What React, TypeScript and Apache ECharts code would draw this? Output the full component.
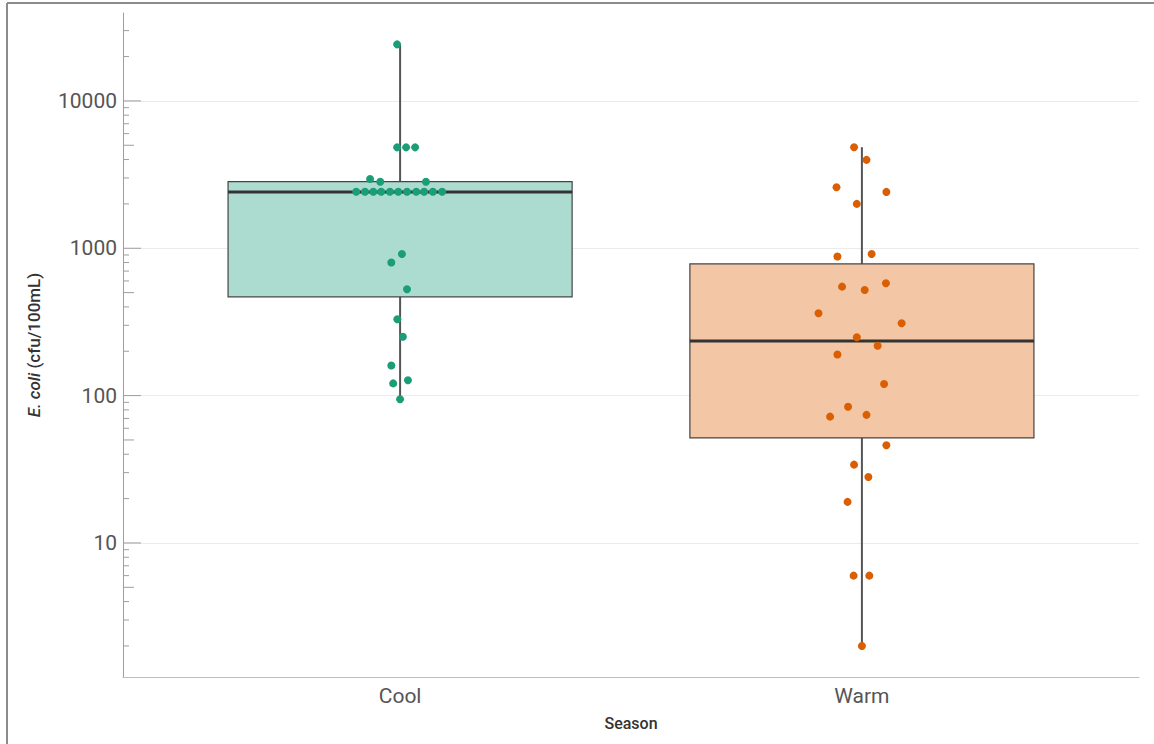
import React, { useEffect, useRef } from 'react';
import * as echarts from 'echarts';

const seasons = ['Cool', 'Warm'];
const boxFill = ['#acdccf', '#f3c6a5'];
const pointColors = ['#1b9e77', '#d95f02'];

// box stats: [min, q1, median, q3, max]
const coolBox = [94.5, 468, 2412, 2830, 24200];
const warmBox = [2, 51.6, 235, 783, 4850];

// points: horizontal jitter offset (category units) and value
const coolJitter = [-0.0065, -0.0065, 0.013, 0.0325, -0.065, -0.043, 0.056,
  -0.095, -0.076, -0.058, -0.041, -0.022, -0.004, 0.015, 0.035, 0.052, 0.071, 0.091,
  0.004, -0.019, 0.015, -0.006, 0.006, -0.019, -0.015, 0.017, 0];
const coolValues = [24200, 4840, 4840, 4840, 2950, 2830, 2830,
  2420, 2420, 2420, 2420, 2420, 2420, 2420, 2420, 2420, 2420, 2420,
  915, 800, 527, 330, 251, 160, 121, 127, 94.5];

const warmJitter = [-0.017, 0.010, -0.055, 0.053, -0.011, -0.053, 0.021, -0.043, 0.006, 0.052,
  -0.094, 0.086, -0.011, 0.034, -0.053, 0.048, -0.030, -0.069, 0.010, 0.053,
  -0.017, 0.014, -0.031, -0.018, 0.016, 0];
const warmValues = [4850, 3980, 2595, 2412, 2000, 878, 915, 549, 521, 579,
  362, 310, 249, 218, 190, 120, 84, 72, 74, 46,
  34, 28, 19, 6, 6, 2];

const yMin = 1.231;
const yMax = 39500;
const majorTicks = [10, 100, 1000, 10000];
const midTicks = [5, 50, 500, 5000];
const minorTicks = [2, 3, 4, 6, 7, 8, 9, 20, 30, 40, 60, 70, 80, 90,
  200, 300, 400, 600, 700, 800, 900, 2000, 3000, 4000, 6000, 7000, 8000, 9000, 20000, 30000];

export default function App() {
  const ref = useRef<HTMLDivElement>(null);
  useEffect(() => {
    if (!ref.current) return;
    const chart = echarts.init(ref.current, null, { renderer: 'svg' });

    const tickData = [
      ...majorTicks.map((v) => [1, v, 18]),
      ...midTicks.map((v) => [1, v, 11]),
      ...minorTicks.map((v) => [1, v, 6]),
    ];
    const boxData = [
      [1, ...coolBox, 0],
      [2, ...warmBox, 1],
    ];

    chart.setOption({
      animation: false,
      textStyle: { fontFamily: 'Roboto' },
      grid: { left: 123, right: 15, top: 13, bottom: 67, containLabel: false },
      graphic: [
        { type: 'line', shape: { x1: 7, y1: 3, x2: 1154, y2: 3 }, style: { stroke: '#8c8c8c', lineWidth: 2 } },
        { type: 'line', shape: { x1: 7, y1: 3, x2: 7, y2: 744 }, style: { stroke: '#8c8c8c', lineWidth: 2 } },
      ],
      xAxis: {
        type: 'value',
        min: 0.4,
        max: 2.6,
        name: 'Season',
        nameLocation: 'middle',
        nameGap: 38,
        nameTextStyle: { fontSize: 16, color: '#333', fontWeight: 500, fontFamily: 'Roboto' },
        axisLine: { show: true, lineStyle: { color: '#bdbdbd', width: 1 } },
        axisTick: { show: false },
        splitLine: { show: false },
        axisLabel: {
          customValues: [1, 2],
          formatter: (v: number) => seasons[Math.round(v) - 1] ?? '',
          fontSize: 21,
          color: '#555',
          margin: 8,
          fontFamily: 'Roboto',
        },
      },
      yAxis: {
        type: 'log',
        logBase: 10,
        min: yMin,
        max: yMax,
        name: '{i|E. coli} (cfu/100mL)',
        nameLocation: 'middle',
        nameRotate: 90,
        nameGap: 81,
        nameTextStyle: {
          fontSize: 17,
          color: '#333',
          fontWeight: 500,
          fontFamily: 'Roboto',
          rich: { i: { fontStyle: 'italic', fontSize: 17, color: '#333', fontWeight: 500, fontFamily: 'Roboto' } },
        },
        axisLine: { show: true, lineStyle: { color: '#9e9e9e', width: 1 } },
        axisTick: { show: false },
        minorTick: { show: false },
        splitLine: { show: true, showMinLine: false, showMaxLine: false, lineStyle: { color: '#ebebeb', width: 1 } },
        axisLabel: {
          showMinLabel: false,
          showMaxLabel: false,
          formatter: (v: number) => String(Math.round(v)),
          fontSize: 21,
          color: '#555',
          margin: 6,
          fontFamily: 'Roboto',
        },
      },
      series: [
        {
          type: 'custom',
          name: 'ticks',
          silent: true,
          encode: { x: 0, y: 1 },
          data: tickData,
          z: 3,
          renderItem: (params: any, api: any) => {
            const y = api.coord([1, api.value(1)])[1];
            const x0 = params.coordSys.x;
            const len = api.value(2);
            return {
              type: 'line',
              shape: { x1: x0, y1: y, x2: x0 + len, y2: y },
              style: { stroke: '#9e9e9e', lineWidth: 1 },
            };
          },
        },
        {
          type: 'custom',
          name: 'boxes',
          silent: true,
          encode: { x: 0, y: [1, 2, 3, 4, 5] },
          data: boxData,
          z: 4,
          renderItem: (params: any, api: any) => {
            const x = api.value(0);
            const half = 0.3725;
            const pMin = api.coord([x, api.value(1)]);
            const pQ1 = api.coord([x, api.value(2)]);
            const pMed = api.coord([x, api.value(3)]);
            const pQ3 = api.coord([x, api.value(4)]);
            const pMax = api.coord([x, api.value(5)]);
            const xl = api.coord([x - half, api.value(3)])[0];
            const xr = api.coord([x + half, api.value(3)])[0];
            const ci = api.value(6);
            return {
              type: 'group',
              children: [
                { type: 'line', shape: { x1: pMax[0], y1: pMax[1], x2: pQ3[0], y2: pQ3[1] }, style: { stroke: '#555', lineWidth: 2 } },
                { type: 'line', shape: { x1: pQ1[0], y1: pQ1[1], x2: pMin[0], y2: pMin[1] }, style: { stroke: '#555', lineWidth: 2 } },
                { type: 'rect', shape: { x: xl, y: pQ3[1], width: xr - xl, height: pQ1[1] - pQ3[1] }, style: { fill: boxFill[ci], stroke: '#444', lineWidth: 1.2 } },
                { type: 'line', shape: { x1: xl, y1: pMed[1], x2: xr, y2: pMed[1] }, style: { stroke: '#333', lineWidth: 3 } },
              ],
            };
          },
        },
        {
          type: 'scatter',
          name: 'Cool',
          symbol: 'circle',
          symbolSize: 8,
          z: 5,
          itemStyle: { color: pointColors[0], opacity: 1 },
          data: coolValues.map((v, i) => [1 + coolJitter[i], v]),
        },
        {
          type: 'scatter',
          name: 'Warm',
          symbol: 'circle',
          symbolSize: 8,
          z: 5,
          itemStyle: { color: pointColors[1], opacity: 1 },
          data: warmValues.map((v, i) => [2 + warmJitter[i], v]),
        },
      ],
    });
    return () => chart.dispose();
  }, []);
  return <div ref={ref} style={{ position: 'fixed', left: 0, top: 0, width: 1154, height: 744, background: '#fff' }} />;
}
